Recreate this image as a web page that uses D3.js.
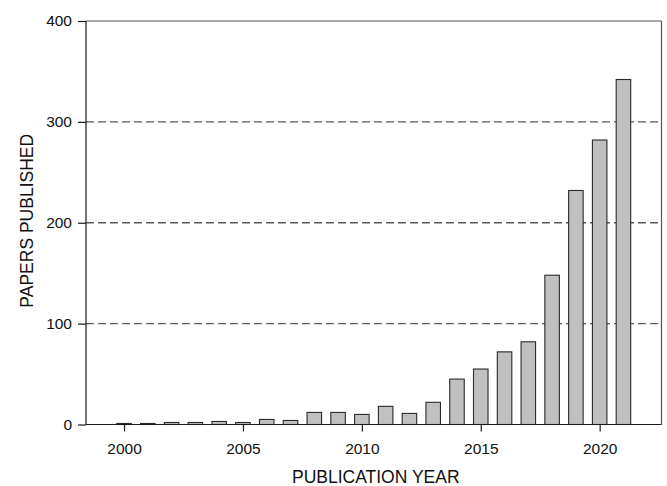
<!DOCTYPE html>
<html>
<head>
<meta charset="utf-8">
<script src="https://cdn.jsdelivr.net/npm/d3@7"></script>
<style>
  html, body { margin: 0; padding: 0; background: #fff; }
  svg { display: block; font-family: "Liberation Sans", Arial, sans-serif; }
</style>
</head>
<body>
<svg id="chart" width="667" height="486"></svg>
<script>
// Papers published per year
const years = [2000, 2001, 2002, 2003, 2004, 2005, 2006, 2007, 2008, 2009, 2010,
               2011, 2012, 2013, 2014, 2015, 2016, 2017, 2018, 2019, 2020, 2021];
const papers = [1, 1, 2, 2, 3, 2, 5, 4, 12, 12, 10,
                18, 11, 22, 45, 55, 72, 82, 148, 232, 282, 342];
const xTicks = [2000, 2005, 2010, 2015, 2020];
const yTicks = [0, 100, 200, 300, 400];
const gridValues = [100, 200, 300];

const svg = d3.select("#chart");
const plotLeft = 86, plotRight = 661.5, plotTop = 21, plotBottom = 424.5;

const x = d3.scaleLinear().domain([1998.4, 2022.6]).range([plotLeft, plotRight]);
const y = d3.scaleLinear().domain([0, 400]).range([plotBottom, plotTop]);
const barW = 0.61 * (x(2001) - x(2000));

// dashed reference lines
svg.append("g").selectAll("line").data(gridValues).join("line")
  .attr("x1", plotLeft).attr("x2", plotRight)
  .attr("y1", d => y(d)).attr("y2", d => y(d))
  .attr("stroke", "#5a5a5a").attr("stroke-width", 1.3)
  .attr("stroke-dasharray", "8,4");

// frame top and right
svg.append("line").attr("x1", plotLeft).attr("x2", plotRight).attr("y1", y(400)).attr("y2", y(400))
  .attr("stroke", "#555").attr("stroke-width", 1.2);
svg.append("line").attr("x1", plotRight).attr("x2", plotRight).attr("y1", y(400)).attr("y2", plotBottom)
  .attr("stroke", "#555").attr("stroke-width", 1.2);

// bars
svg.append("g").selectAll("rect").data(years).join("rect")
  .attr("x", (d) => x(d) - barW / 2)
  .attr("width", barW)
  .attr("y", (d, i) => y(papers[i]))
  .attr("height", (d, i) => y(0) - y(papers[i]))
  .attr("fill", "#c0c0c0")
  .attr("stroke", "#2a2a2a")
  .attr("stroke-width", 1.1);

// axes
const xAxis = d3.axisBottom(x).tickValues(xTicks).tickFormat(d3.format("d"))
  .tickSize(7).tickPadding(11);
const gx = svg.append("g").attr("transform", `translate(0,${plotBottom})`).call(xAxis);
gx.select(".domain").attr("stroke", "#1a1a1a").attr("stroke-width", 1.2)
  .attr("d", `M${plotLeft},0H${plotRight}`);
gx.selectAll(".tick line").attr("stroke", "#1a1a1a").attr("stroke-width", 1.2);
gx.selectAll(".tick text").attr("fill", "#111").style("font-size", "15.5px")
  .style("font-family", "'Liberation Sans', Arial, sans-serif");

const yAxis = d3.axisLeft(y).tickValues(yTicks).tickSize(8).tickPadding(6);
const gy = svg.append("g").attr("transform", `translate(${plotLeft},0)`).call(yAxis);
gy.select(".domain").attr("stroke", "#1a1a1a").attr("stroke-width", 1.2)
  .attr("d", `M0,${plotBottom}V${plotTop}`);
gy.selectAll(".tick line").attr("stroke", "#1a1a1a").attr("stroke-width", 1.2);
gy.selectAll(".tick text").attr("fill", "#111").style("font-size", "15.5px")
  .style("font-family", "'Liberation Sans', Arial, sans-serif");

// axis titles
svg.append("text")
  .attr("x", (plotLeft + plotRight) / 2 + 2).attr("y", 483)
  .attr("text-anchor", "middle").attr("fill", "#111")
  .style("font-size", "17.5px")
  .text("PUBLICATION YEAR");

svg.append("text")
  .attr("transform", `translate(33,${(plotTop + plotBottom) / 2 - 2}) rotate(-90)`)
  .attr("text-anchor", "middle").attr("fill", "#111")
  .style("font-size", "17.5px")
  .text("PAPERS PUBLISHED");
</script>
</body>
</html>
